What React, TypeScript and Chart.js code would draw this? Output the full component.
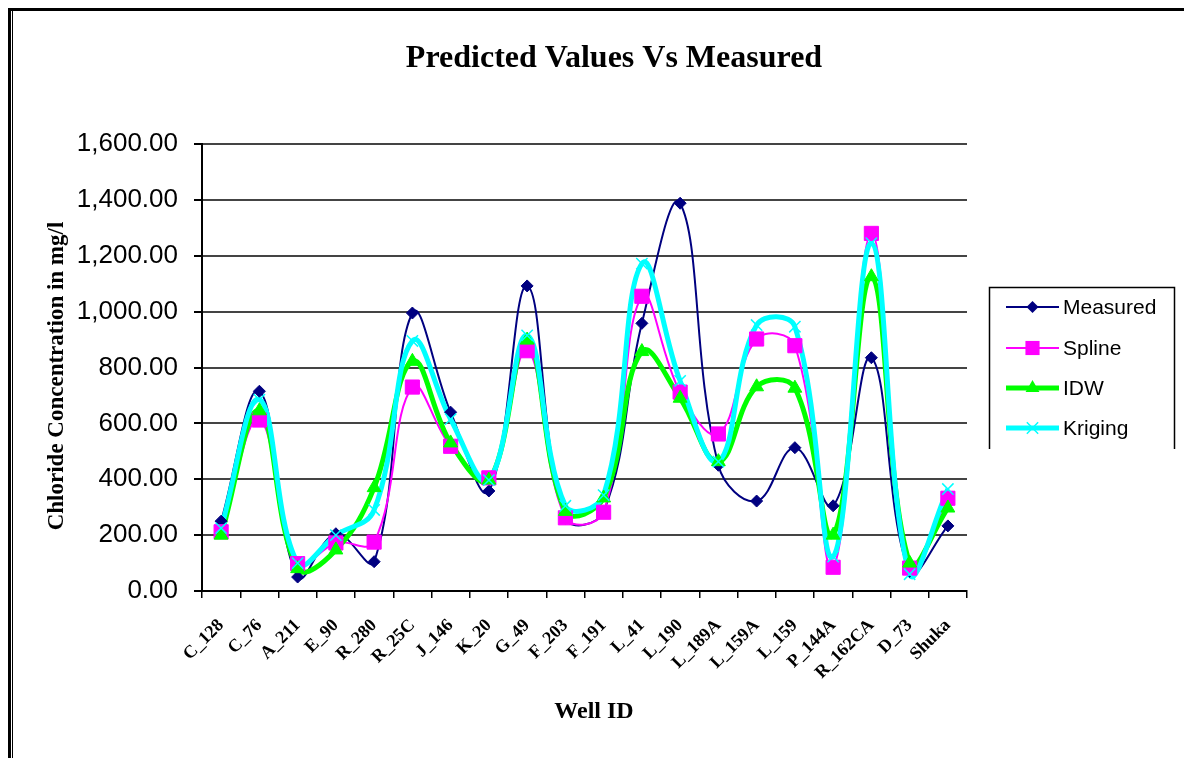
import React, { useEffect, useRef } from 'react';
import { Chart, registerables } from 'chart.js';

Chart.register(...registerables);

const categories = ['C_128', 'C_76', 'A_211', 'E_90', 'R_280', 'R_25C', 'J_146', 'K_20', 'G_49', 'F_203', 'F_191', 'L_41', 'L_190', 'L_189A', 'L_159A', 'L_159', 'P_144A', 'R_162CA', 'D_73', 'Shuka'];
const measured = [250, 715, 50, 205, 105, 995, 640, 358, 1092, 260, 283, 958, 1388, 450, 322, 513, 305, 835, 70, 233];
const spline = [212, 612, 98, 172, 175, 730, 518, 405, 860, 262, 282, 1055, 712, 562, 902, 878, 85, 1280, 82, 332];
const idw = [200, 645, 80, 147, 370, 822, 530, 397, 898, 285, 333, 857, 690, 463, 731, 726, 200, 1125, 100, 297];
const kriging = [225, 685, 100, 200, 290, 895, 615, 397, 915, 305, 343, 1172, 752, 463, 952, 946, 123, 1245, 60, 365];

const seriesNames = ['Measured', 'Spline', 'IDW', 'Kriging'];
const seriesColors = ['#000080', '#FF00FF', '#00FF00', '#00FFFF'];
const seriesData = [measured, spline, idw, kriging];
const lineWidths = [2, 2, 5, 5];
const pointStyles = ['rectRot', 'rect', 'triangle', 'crossRot'];
const pointRadii = [6, 10, 8, 8];

const CHART_TITLE = 'Predicted Values Vs Measured';
const Y_TITLE = 'Chloride Concentration in mg/l';
const X_TITLE = 'Well ID';

function drawMarker(ctx: CanvasRenderingContext2D, style: string, x: number, y: number, r: number, color: string) {
  ctx.save();
  ctx.fillStyle = color;
  ctx.strokeStyle = color;
  ctx.beginPath();
  if (style === 'rectRot') {
    ctx.moveTo(x, y - r);
    ctx.lineTo(x + r, y);
    ctx.lineTo(x, y + r);
    ctx.lineTo(x - r, y);
    ctx.closePath();
    ctx.fill();
  } else if (style === 'rect') {
    const s = Math.SQRT1_2 * r;
    ctx.rect(x - s, y - s, 2 * s, 2 * s);
    ctx.fill();
  } else if (style === 'triangle') {
    ctx.moveTo(x, y - r);
    ctx.lineTo(x + r * 0.866, y + r * 0.5);
    ctx.lineTo(x - r * 0.866, y + r * 0.5);
    ctx.closePath();
    ctx.fill();
  } else {
    const d = r * Math.SQRT1_2;
    ctx.lineWidth = 1.5;
    ctx.moveTo(x - d, y - d);
    ctx.lineTo(x + d, y + d);
    ctx.moveTo(x + d, y - d);
    ctx.lineTo(x - d, y + d);
    ctx.stroke();
  }
  ctx.restore();
}

const decorPlugin = {
  id: 'decor',
  beforeDraw(chart: any) {
    const ctx = chart.ctx as CanvasRenderingContext2D;
    ctx.save();
    ctx.fillStyle = '#ffffff';
    ctx.fillRect(0, 0, chart.width, chart.height);
    ctx.fillStyle = '#000000';
    ctx.fillRect(8, 8, chart.width - 8, 3);
    ctx.fillRect(8, 8, 3, chart.height - 8);
    ctx.fillRect(12, 10, 1, chart.height - 10);
    ctx.restore();
  },
  afterDraw(chart: any) {
    const ctx = chart.ctx as CanvasRenderingContext2D;
    ctx.save();
    ctx.fillStyle = '#000';
    ctx.textAlign = 'center';
    ctx.textBaseline = 'alphabetic';
    ctx.font = 'bold 32px "Liberation Serif"';
    ctx.fillText(CHART_TITLE, 614, 67);

    ctx.font = 'bold 24px "Liberation Serif"';
    ctx.fillText(X_TITLE, 594, 718);

    ctx.save();
    ctx.translate(63, 376);
    ctx.rotate(-Math.PI / 2);
    ctx.font = 'bold 23px "Liberation Serif"';
    ctx.fillText(Y_TITLE, 0, 0);
    ctx.restore();

    // legend
    ctx.strokeStyle = '#000';
    ctx.lineWidth = 1.5;
    ctx.beginPath();
    ctx.moveTo(989.5, 449);
    ctx.lineTo(989.5, 287.5);
    ctx.lineTo(1174.5, 287.5);
    ctx.lineTo(1174.5, 449);
    ctx.stroke();
    const rows = [307, 348, 388, 428];
    ctx.font = '21px "Liberation Sans"';
    ctx.textAlign = 'left';
    ctx.textBaseline = 'middle';
    for (let i = 0; i < seriesNames.length; i++) {
      const y = rows[i];
      ctx.strokeStyle = seriesColors[i];
      ctx.lineWidth = lineWidths[i];
      ctx.beginPath();
      ctx.moveTo(1006, y);
      ctx.lineTo(1059, y);
      ctx.stroke();
      drawMarker(ctx, pointStyles[i], 1032.5, y, pointRadii[i], seriesColors[i]);
      ctx.fillStyle = '#000';
      ctx.fillText(seriesNames[i], 1063, y + 1);
    }
    ctx.restore();
  },
};

export default function App() {
  const ref = useRef<HTMLCanvasElement | null>(null);
  useEffect(() => {
    if (!ref.current) return;
    const lineSets = seriesData.map((d, i) => ({
      label: seriesNames[i] + ' line',
      data: d,
      borderColor: seriesColors[i],
      backgroundColor: seriesColors[i],
      borderWidth: lineWidths[i],
      pointRadius: 0,
      tension: 0.4,
      fill: false,
      order: 8 - i,
    }));
    const pointSets = seriesData.map((d, i) => ({
      label: seriesNames[i],
      data: d,
      showLine: false,
      borderColor: seriesColors[i],
      backgroundColor: seriesColors[i],
      pointStyle: pointStyles[i],
      pointRadius: pointRadii[i],
      pointBorderWidth: i === 3 ? 1.5 : 1,
      order: 4 - i,
    }));
    const chart = new Chart(ref.current, {
      type: 'line',
      data: { labels: categories, datasets: [...lineSets, ...pointSets] as any },
      plugins: [decorPlugin],
      options: {
        responsive: false,
        animation: false,
        devicePixelRatio: 1,
        events: [],
        layout: { padding: { top: 144, right: 217, left: 0, bottom: 0 } },
        plugins: { legend: { display: false }, tooltip: { enabled: false }, title: { display: false } },
        scales: {
          x: {
            type: 'category',
            offset: true,
            grid: { display: true, drawOnChartArea: false, drawTicks: true, tickLength: 7, color: '#000', lineWidth: 1.5, offset: true },
            border: { display: true, color: '#000', width: 2 },
            ticks: {
              autoSkip: false,
              maxRotation: 45,
              minRotation: 45,
              color: '#000',
              padding: 17,
              font: { family: '"Liberation Serif"', size: 18, weight: 'bold' },
            },
            afterFit: (s: any) => { s.height = 167; },
          },
          y: {
            min: 0,
            max: 1600,
            ticks: {
              stepSize: 200,
              color: '#000',
              padding: 16,
              font: { family: '"Liberation Sans"', size: 26 },
              callback: (v: any) => Number(v).toLocaleString('en-US', { minimumFractionDigits: 2, maximumFractionDigits: 2 }),
            },
            grid: { color: '#444', lineWidth: 2, tickLength: 8, tickColor: '#000' },
            border: { display: true, color: '#000', width: 2 },
            afterFit: (s: any) => { s.width = 202; },
          },
        },
      } as any,
    });
    return () => chart.destroy();
  }, []);
  return (
    <div style={{ position: 'fixed', left: 0, top: 0, width: 1184, height: 758 }}>
      <canvas ref={ref} width={1184} height={758} style={{ display: 'block', width: 1184, height: 758 }} />
    </div>
  );
}
